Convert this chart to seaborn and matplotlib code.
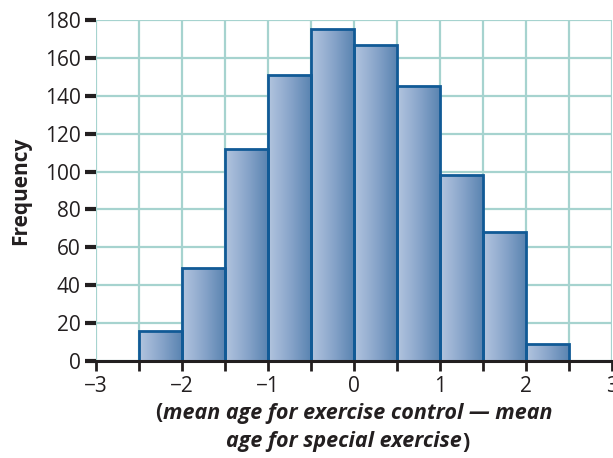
import numpy as np
import pandas as pd
import matplotlib
matplotlib.use("Agg")
import matplotlib.pyplot as plt
import seaborn as sns
from matplotlib.colors import LinearSegmentedColormap

# Data
bin_centers = [-2.25, -1.75, -1.25, -0.75, -0.25, 0.25, 0.75, 1.25, 1.75, 2.25]
frequencies = [16, 49, 112, 151, 175, 167, 145, 98, 68, 9]
bin_edges = [-2.5, -2.0, -1.5, -1.0, -0.5, 0.0, 0.5, 1.0, 1.5, 2.0, 2.5]
x_ticks = [-3, -2, -1, 0, 1, 2, 3]
y_ticks = [0, 20, 40, 60, 80, 100, 120, 140, 160, 180]

sns.set_theme(style="white")
plt.rcParams['font.family'] = ['Open Sans', 'DejaVu Sans']

df = pd.DataFrame({"diff": bin_centers, "freq": frequencies})

fig = plt.figure(figsize=(6.13, 4.58), dpi=100)
ax = fig.add_axes([96/613, 1-361/458, (612-96)/613, (361-20)/458])

grid_c = "#a6d3cf"
edge_c = "#115a96"
text_c = "#231f20"

sns.histplot(data=df, x="diff", weights="freq", bins=bin_edges, ax=ax,
             color="#7d9ec6", edgecolor=edge_c, linewidth=2.0, alpha=1, zorder=3)

# gradient fill clipped to each bar
cmap = LinearSegmentedColormap.from_list("g", ["#b3c5df", "#8aa6cb", "#5a84b1"])
grad = np.linspace(0, 1, 256).reshape(1, -1)
for p in list(ax.patches):
    x0, y0 = p.get_x(), p.get_y()
    w, h = p.get_width(), p.get_height()
    im = ax.imshow(grad, cmap=cmap, aspect="auto", extent=[x0, x0 + w, y0, y0 + h],
                   zorder=3.5, interpolation="bilinear")
    im.set_clip_path(p)
    p.set_facecolor("none")
    p.set_zorder(4)

ax.set_xlim(-3, 3)
ax.set_ylim(0, 180)
xt = np.arange(-3, 3.01, 0.5)
ax.set_xticks(xt)
ax.set_xticklabels([("\u2212%d" % -v if v < 0 else "%d" % v) if float(v).is_integer() else ""
                    for v in xt])
ax.set_yticks(y_ticks)
ax.set_yticklabels([str(v) for v in y_ticks])

ax.grid(True, color=grid_c, linewidth=1.6, zorder=0)
ax.set_axisbelow(True)
for s in ["left", "top", "right"]:
    ax.spines[s].set_visible(False)
ax.spines["bottom"].set_color(text_c)
ax.spines["bottom"].set_linewidth(2.2)
ax.spines["bottom"].set_zorder(5)

ax.tick_params(axis="y", which="major", left=True, length=8, width=3, color=text_c,
               labelsize=15, labelcolor=text_c, pad=3)
ax.tick_params(axis="x", which="major", bottom=True, length=7, width=2, color=text_c,
               labelsize=15, labelcolor=text_c, pad=4)

ax.set_xlabel("")
ax.set_ylabel("Frequency", fontsize=15, fontweight="bold", color=text_c, labelpad=10)

# two-line x label: upright bold parentheses, bold italic words
renderer = fig.canvas.get_renderer()
fs = 15.5

def centered_line(parts, xc_px, yc_px, gaps):
    texts = []
    for s, style in parts:
        t = fig.text(0, 0, s, fontsize=fs, fontweight="bold", fontstyle=style,
                     color=text_c, va="center", ha="left")
        texts.append(t)
    widths = [t.get_window_extent(renderer).width for t in texts]
    total = sum(widths) + sum(gaps)
    x = xc_px - total / 2
    for t, w, g in zip(texts, widths, gaps + [0]):
        t.set_position((x / 613, 1 - yc_px / 458))
        x += w + g

centered_line([("(", "normal"), ("mean age for exercise control \u2014 mean", "italic")], 354, 413, [0.5])
centered_line([("age for special exercise", "italic"), (")", "normal")], 348, 442, [0.5])

fig.savefig("out.png", dpi=100)
